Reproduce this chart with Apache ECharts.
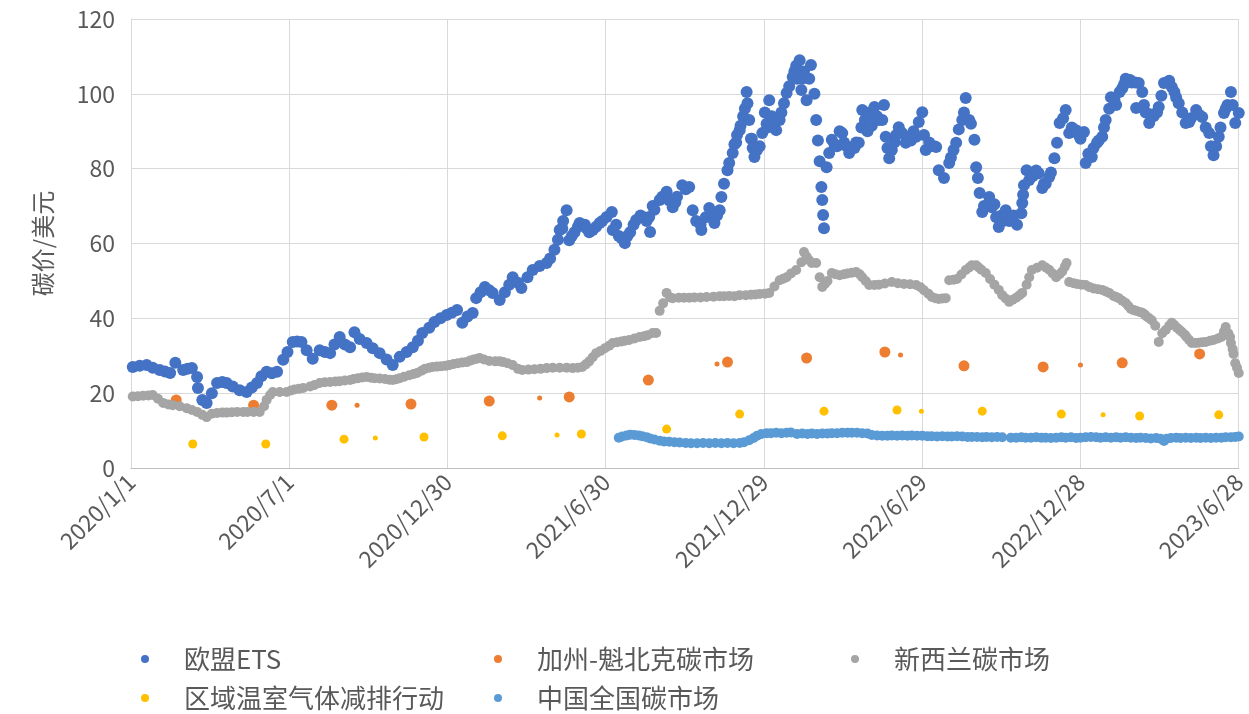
<!DOCTYPE html>
<html>
<head>
<meta charset="utf-8">
<script src="https://cdn.jsdelivr.net/npm/echarts@6/dist/echarts.min.js"></script>
<style>
html,body{margin:0;padding:0;background:#fff;}
#chart{width:1249px;height:714px;}
</style>
</head>
<body>
<div id="chart"></div>
<script>
// x values: days since 2020/1/1
const seriesNames = ['欧盟ETS','加州-魁北克碳市场','新西兰碳市场','区域温室气体减排行动','中国全国碳市场'];
const yTicks = [0,20,40,60,80,100,120];

// EU ETS: [day, price]
const euPoints = [[2,27.0],[10,27.3],[18,27.5],[25,26.8],[33,26.2],[39,25.8],[45,25.4],[51,28.1],[60,26.2],[65,26.5],[70,26.7],[76,24.3],[77,21.4],[82,18.2],[87,17.4],[93,20.0],[99,22.7],[105,23.0],[110,22.7],[117,21.8],[125,20.8],[133,20.3],[139,21.5],[145,22.7],[150,24.5],[156,25.7],[162,25.3],[168,25.7],[175,28.9],[180,31.0],[186,33.7],[191,33.8],[196,33.7],[202,31.5],[209,29.2],[217,31.5],[223,31.0],[229,30.7],[234,33.0],[240,35.0],[246,33.0],[252,32.3],[257,36.3],[263,34.5],[271,33.4],[278,32.0],[286,30.7],[294,29.0],[301,27.5],[309,29.7],[317,31.0],[324,32.3],[330,34.0],[335,36.1],[343,37.5],[349,39.0],[356,40.0],[363,40.9],[369,41.5],[375,42.2],[381,38.8],[387,40.5],[393,41.4],[397,45.4],[402,47.0],[407,48.4],[412,47.5],[416,46.8],[424,44.9],[430,47.0],[435,49.0],[439,51.0],[445,49.5],[449,48.1],[456,51.0],[462,52.9],[470,54.0],[478,54.8],[482,56.0],[487,58.3],[491,61.0],[493,63.6],[496,64.0],[497,66.0],[501,68.9],[504,60.9],[507,62.0],[510,63.0],[514,64.5],[516,65.5],[522,65.0],[524,64.0],[527,63.0],[531,63.6],[535,64.5],[539,65.5],[542,66.0],[547,67.1],[553,68.4],[554,63.6],[558,65.0],[561,62.0],[564,61.5],[568,60.1],[571,62.0],[574,63.0],[578,65.0],[581,66.3],[586,67.5],[589,67.0],[593,66.0],[596,67.1],[597,63.1],[600,70.0],[602,69.0],[608,71.6],[611,72.5],[616,73.8],[619,71.5],[623,69.7],[626,71.0],[628,72.5],[634,75.6],[638,74.5],[642,75.1],[646,68.9],[650,66.0],[655,65.0],[656,63.6],[661,67.0],[665,69.5],[668,67.0],[671,65.5],[674,67.5],[677,68.9],[679,72.4],[682,76.0],[686,79.6],[688,81.5],[692,84.2],[694,86.5],[696,87.0],[697,89.0],[700,90.3],[701,91.5],[704,94.0],[706,96.0],[708,100.5],[709,97.5],[711,93.0],[713,88.0],[714,88.0],[715,85.5],[717,83.1],[720,85.0],[723,86.0],[726,89.5],[729,95.0],[731,92.0],[732,91.0],[734,98.3],[737,94.0],[740,92.0],[742,90.3],[746,93.0],[748,95.0],[751,97.5],[754,100.2],[757,102.0],[761,104.5],[763,106.0],[765,107.5],[766,104.0],[769,109.0],[771,101.0],[772,104.0],[774,106.0],[777,98.3],[780,104.0],[782,107.7],[786,100.0],[788,93.0],[790,87.5],[792,82.0],[794,75.1],[795,71.6],[796,67.6],[797,64.1],[800,80.4],[803,84.2],[806,87.7],[809,86.5],[812,86.0],[815,90.0],[818,89.5],[820,87.0],[823,86.0],[826,84.2],[828,85.5],[832,85.5],[834,87.0],[837,86.9],[840,91.0],[841,95.7],[844,93.0],[847,90.0],[849,95.0],[851,93.0],[852,91.5],[855,96.5],[858,94.0],[860,93.0],[864,93.0],[866,97.0],[868,88.5],[870,85.5],[872,82.8],[875,85.0],[878,87.0],[880,89.0],[883,91.1],[887,89.5],[891,86.9],[893,88.0],[897,87.5],[900,90.0],[903,88.5],[906,92.5],[910,95.1],[912,89.0],[914,85.0],[918,87.0],[920,86.0],[924,86.0],[926,85.8],[929,79.6],[935,77.5],[941,81.5],[943,83.0],[946,85.0],[949,86.9],[952,90.5],[956,93.0],[958,95.0],[960,98.9],[964,93.0],[966,92.0],[970,87.7],[972,80.4],[974,77.5],[976,73.5],[979,68.4],[981,70.0],[983,70.0],[987,72.4],[990,69.7],[993,70.5],[995,67.0],[998,64.4],[1001,67.5],[1003,66.0],[1006,68.9],[1007,67.0],[1010,66.0],[1013,66.3],[1015,67.5],[1019,65.0],[1024,68.1],[1025,70.8],[1026,73.0],[1027,75.6],[1030,79.6],[1033,77.0],[1037,78.0],[1041,79.5],[1044,78.8],[1048,74.8],[1050,76.0],[1052,76.0],[1056,77.8],[1058,79.0],[1062,82.8],[1065,86.9],[1068,92.2],[1072,93.5],[1075,95.7],[1079,89.5],[1082,91.0],[1087,90.3],[1090,89.0],[1092,88.0],[1096,89.8],[1098,81.5],[1101,84.0],[1105,83.1],[1107,85.5],[1111,86.9],[1113,87.5],[1117,88.5],[1119,91.0],[1121,93.0],[1125,96.0],[1127,99.1],[1131,98.5],[1133,97.0],[1137,100.5],[1140,101.5],[1142,102.5],[1144,104.0],[1149,103.7],[1151,103.0],[1155,103.0],[1156,96.2],[1159,102.9],[1163,100.5],[1165,97.0],[1167,95.0],[1171,92.2],[1173,94.5],[1176,94.0],[1180,95.0],[1182,96.5],[1185,99.5],[1188,102.9],[1192,103.0],[1194,103.5],[1197,101.8],[1200,100.5],[1202,99.0],[1205,97.5],[1209,95.0],[1213,92.2],[1217,92.5],[1219,93.5],[1225,95.7],[1228,94.5],[1232,93.8],[1236,91.0],[1240,89.5],[1242,86.0],[1245,83.6],[1248,86.0],[1251,88.5],[1253,91.0],[1257,94.9],[1259,96.0],[1261,97.0],[1265,100.5],[1267,97.0],[1270,92.2],[1274,94.9]];

const caDays = [52,141,231,322,412,504,595,686,777,867,958,1049,1140,1229];
const caPrices = [18.2,16.8,16.8,17.1,17.9,19.0,23.5,28.3,29.4,31.0,27.3,27.0,28.1,30.5];
const caMinorDays = [51,260,470,674,885,1092];
const caMinorPrices = [17.2,16.8,18.7,27.8,30.2,27.5];

const nzDays = [2,8,14,20,25,31,37,43,48,56,64,70,76,82,87,93,99,105,110,116,122,129,134,141,148,153,156,160,163,171,179,184,188,193,198,206,211,217,223,229,235,240,246,252,256,261,266,271,276,280,286,292,297,301,305,309,314,320,325,329,334,338,343,347,352,357,362,366,371,376,381,386,390,394,398,401,406,412,419,424,428,433,439,445,450,457,464,471,478,485,493,501,508,514,519,523,527,531,535,540,545,550,554,559,564,568,573,579,585,590,594,600,604,608,612,616,620,623,630,636,642,648,655,662,670,677,682,688,694,700,707,713,718,723,729,734,740,746,750,754,759,765,771,774,777,780,783,788,792,795,798,801,806,810,815,820,824,829,834,838,841,845,849,855,860,867,875,882,889,896,903,908,912,917,921,925,929,933,937,941,946,950,955,960,964,967,972,975,978,983,988,993,998,1002,1006,1010,1014,1018,1022,1025,1030,1033,1036,1042,1048,1052,1056,1060,1064,1068,1071,1074,1076,1079,1084,1088,1093,1098,1102,1107,1112,1117,1121,1125,1130,1133,1136,1140,1144,1147,1150,1153,1156,1160,1163,1166,1168,1171,1174,1178,1182,1186,1190,1194,1197,1200,1203,1206,1209,1212,1214,1217,1220,1224,1228,1232,1236,1241,1245,1250,1254,1257,1259,1262,1264,1265,1267,1268,1270,1272,1274];
const nzPrices = [19.1,19.2,19.3,19.4,19.5,18.5,17.4,17.0,16.8,16.5,16.0,15.5,15.0,14.2,13.6,14.5,14.7,14.8,14.8,14.9,15.0,15.0,15.0,15.0,15.0,16.5,18.2,19.5,20.3,20.3,20.3,20.7,21.0,21.2,21.4,21.8,22.2,22.7,22.9,23.0,23.1,23.2,23.4,23.5,23.8,24.0,24.2,24.3,24.1,24.0,23.9,23.8,23.6,23.5,23.7,24.0,24.4,24.8,25.1,25.4,26.0,26.5,26.8,27.0,27.1,27.2,27.3,27.5,27.8,28.0,28.2,28.3,28.7,29.0,29.2,29.4,29.0,28.6,28.5,28.5,28.3,28.0,27.5,26.5,26.2,26.3,26.4,26.5,26.7,26.8,26.8,26.8,26.7,26.8,27.0,27.7,28.5,29.6,30.7,31.3,32.0,32.7,33.4,33.6,33.8,34.0,34.2,34.6,35.0,35.2,35.5,36.1,36.1,42.0,44.0,46.8,45.6,45.4,45.5,45.5,45.5,45.6,45.6,45.7,45.8,45.9,45.9,46.0,45.9,46.2,46.2,46.3,46.4,46.5,46.6,46.8,48.5,50.2,50.6,51.0,52.0,52.9,55.0,57.7,56.5,55.5,54.8,54.8,51.0,48.4,49.2,50.0,52.1,51.8,51.5,51.8,52.0,52.2,52.4,51.8,51.0,50.0,48.9,48.9,49.0,49.3,49.7,49.4,49.2,49.1,48.9,48.3,47.5,46.6,45.7,45.4,45.2,45.3,45.4,50.2,50.3,50.5,51.7,52.9,53.6,54.2,54.2,53.6,53.0,52.1,50.5,49.0,47.6,46.2,45.3,44.4,45.0,45.5,46.2,46.8,49.0,51.0,52.9,53.5,54.2,53.6,53.0,52.0,51.0,51.8,52.5,53.8,54.8,49.7,49.4,49.2,49.0,48.9,48.4,48.0,47.8,47.6,47.2,46.8,46.0,45.7,45.4,44.7,44.1,43.3,42.5,42.2,42.0,41.7,41.5,41.0,40.5,40.0,39.5,38.0,33.7,36.0,36.9,38.0,38.8,38.2,37.5,36.9,36.3,35.6,35.0,34.2,33.4,33.4,33.5,33.6,33.7,34.0,34.2,34.6,35.0,36.5,37.7,36.0,35.0,33.4,31.8,30.5,28.0,26.8,25.4];

const rgDays = [71,155,245,337,427,518,616,700,797,881,979,1070,1160,1251];
const rgPrices = [6.4,6.4,7.7,8.3,8.6,9.1,10.4,14.4,15.2,15.5,15.2,14.4,13.9,14.2];
const rgMinorDays = [281,490,909,1118];
const rgMinorPrices = [8.0,8.8,15.2,14.2];

const cnDays = [561,565,570,574,579,584,588,593,597,602,608,613,619,625,631,638,644,651,658,665,672,679,686,693,700,705,711,716,720,725,731,736,742,748,754,759,766,772,778,783,789,795,801,806,812,818,824,829,835,841,847,852,858,864,870,875,881,887,893,898,904,910,916,921,927,933,939,944,950,956,962,967,973,979,984,990,996,1002,1012,1018,1024,1029,1035,1041,1047,1052,1058,1064,1070,1075,1081,1087,1092,1098,1104,1110,1115,1121,1127,1133,1138,1144,1150,1156,1161,1167,1173,1179,1184,1188,1191,1196,1202,1207,1213,1219,1225,1230,1236,1242,1248,1254,1259,1265,1270,1274];
const cnPrices = [8.1,8.4,8.7,8.9,8.8,8.7,8.5,8.2,7.9,7.6,7.3,7.1,7.0,6.9,6.8,6.7,6.6,6.6,6.7,6.6,6.7,6.6,6.7,6.6,6.7,6.9,7.4,8.0,8.6,9.1,9.3,9.3,9.4,9.3,9.4,9.5,9.1,9.2,9.1,9.2,9.1,9.2,9.2,9.3,9.3,9.4,9.4,9.4,9.4,9.3,9.2,8.8,8.7,8.6,8.6,8.7,8.6,8.7,8.6,8.7,8.6,8.6,8.5,8.5,8.4,8.5,8.4,8.4,8.5,8.4,8.3,8.3,8.3,8.2,8.3,8.2,8.3,8.2,8.1,8.1,8.2,8.1,8.1,8.2,8.1,8.1,8.0,8.1,8.2,8.1,8.2,8.0,8.1,8.2,8.3,8.2,8.1,8.2,8.1,8.2,8.1,8.2,8.1,8.0,8.1,8.0,7.9,8.0,7.8,7.2,7.8,8.0,8.1,8.0,8.1,8.0,8.1,8.0,8.1,8.0,8.1,8.1,8.2,8.2,8.3,8.4];

const zip = (a, b) => a.map((d, i) => [d, b[i]]);
const BASE = Date.UTC(2020, 0, 1);
const fmtDay = v => {
  const d = new Date(BASE + v * 86400000);
  return d.getUTCFullYear() + '/' + (d.getUTCMonth() + 1) + '/' + d.getUTCDate();
};

const colors = ['#4472C4','#ED7D31','#A5A5A5','#FFC000','#5B9BD5'];
const txt = '#595959';
const font = "'Noto Sans CJK SC', 'Noto Sans', sans-serif";

// legend placement: [name index, dot centre x, row top]
const legendSlots = [[0,140,641],[1,493,641],[2,850,641],[3,140,680],[4,493,680]];
const legends = legendSlots.map(([i, cx, top]) => ({
  left: cx - 4, top: top,
  data: [seriesNames[i]],
  icon: 'circle', itemWidth: 8, itemHeight: 8,
  textStyle: {color: txt, fontSize: 26, fontFamily: font, padding: [0, 0, 0, 30]}
}));

const chart = echarts.init(document.getElementById('chart'), null, {renderer: 'canvas'});
chart.setOption({
  animation: false,
  textStyle: {fontFamily: font},
  grid: {left: 131, right: 9, top: 19, bottom: 246, containLabel: false},
  legend: legends,
  xAxis: {
    type: 'value', min: 0, max: 1274, interval: 182,
    axisLine: {show: true, lineStyle: {color: '#BFBFBF', width: 1}},
    axisTick: {show: false},
    splitLine: {show: true, lineStyle: {color: '#D9D9D9', width: 1}},
    axisLabel: {rotate: 45, color: txt, fontSize: 23, fontFamily: font, margin: 10, formatter: fmtDay, showMinLabel: true, showMaxLabel: true}
  },
  yAxis: {
    type: 'value', min: yTicks[0], max: yTicks[yTicks.length - 1], interval: 20,
    name: '碳价/美元', nameLocation: 'middle', nameRotate: 90, nameGap: 76,
    nameTextStyle: {color: txt, fontSize: 24, fontFamily: font},
    axisLine: {show: true, lineStyle: {color: '#D9D9D9', width: 1}},
    axisTick: {show: false},
    splitLine: {show: true, lineStyle: {color: '#D9D9D9', width: 1}},
    axisLabel: {color: txt, fontSize: 23, fontFamily: font, margin: 16}
  },
  series: [
    {name: seriesNames[0], type: 'scatter', data: euPoints, symbolSize: 12, itemStyle: {color: colors[0], opacity: 1}},
    {name: seriesNames[1], type: 'scatter', data: zip(caDays, caPrices), symbolSize: 11, itemStyle: {color: colors[1], opacity: 1}},
    {name: seriesNames[1], type: 'scatter', data: zip(caMinorDays, caMinorPrices), symbolSize: 5, itemStyle: {color: colors[1], opacity: 1}},
    {name: seriesNames[2], type: 'scatter', data: zip(nzDays, nzPrices), symbolSize: 10, itemStyle: {color: colors[2], opacity: 1}},
    {name: seriesNames[3], type: 'scatter', data: zip(rgDays, rgPrices), symbolSize: 9, itemStyle: {color: colors[3], opacity: 1}},
    {name: seriesNames[3], type: 'scatter', data: zip(rgMinorDays, rgMinorPrices), symbolSize: 5, itemStyle: {color: colors[3], opacity: 1}},
    {name: seriesNames[4], type: 'scatter', data: zip(cnDays, cnPrices), symbolSize: 10, itemStyle: {color: colors[4], opacity: 1}}
  ]
});
</script>
</body>
</html>
